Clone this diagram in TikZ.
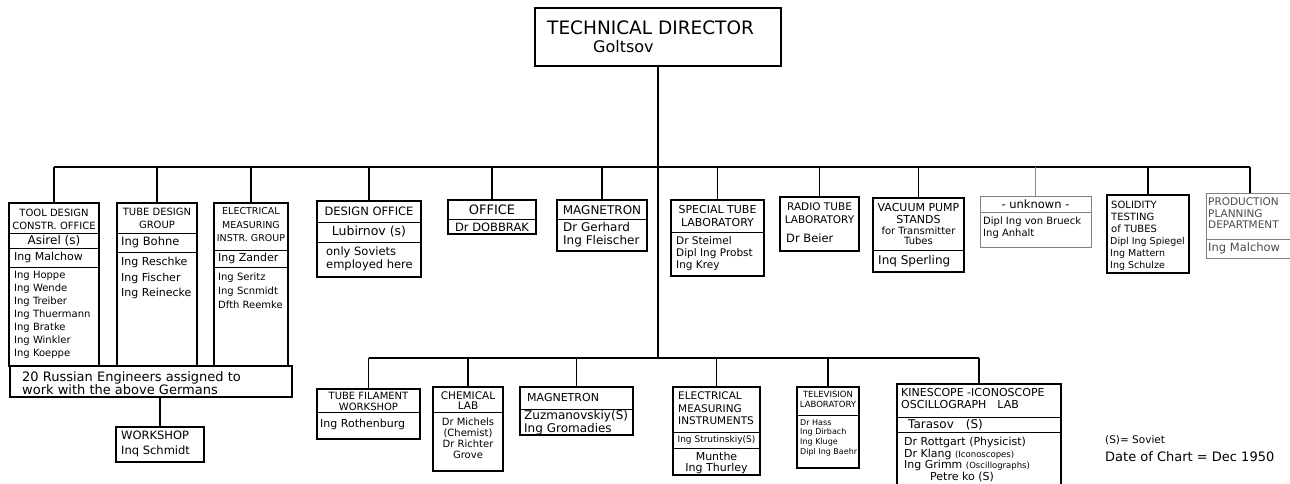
\documentclass[tikz,border=0pt]{standalone}
\usepackage{fontspec}
\setmainfont{DejaVu Sans}
\usetikzlibrary{calc}

\newcommand{\fsz}[2]{\fontsize{#1}{#2}\selectfont}
\newcommand{\splitat}[3][sep]{\draw[#1] (#2.west |- 0,#3) -- (#2.east |- 0,#3);}

\tikzset{
	box/.style={draw, line width=1.3pt, inner sep=0pt, outer sep=0pt},
	gbox/.style={box, draw=black!50, line width=0.7pt},
	sep/.style={line width=1pt},
	gsep/.style={draw=black!50, line width=0.7pt},
	link/.style={line width=1.6pt},
	glink/.style={draw=black!45, line width=0.8pt},
	hd/.style={inner sep=0pt, align=center, anchor=north},
	nm/.style={inner sep=0pt, align=left, anchor=north west},
	one/.style={inner sep=0pt},
}

\begin{document}
\begin{tikzpicture}[x=1pt, y=-1pt, auto]
	\useasboundingbox (0,0) rectangle (1290,483);
	
	% director
	\node[box, minimum width=246, minimum height=58] (dir) at (658,37) {};
	\node[nm, font=\fsz{18.5}{20}] (dirA) at (547,21) {TECHNICAL DIRECTOR};
	\node[nm, font=\fsz{16}{18}] (dirB) at (593,40) {Goltsov};
	\coordinate (tbus) at (658,167);
	\coordinate (bbus) at (658,358);
	
	% upper row
	\node[box, minimum width=90, minimum height=163] (tool) at (54,284.5) {};
	\splitat{tool}{233} \splitat{tool}{248} \splitat{tool}{267}
	\node[hd, font=\fsz{10}{13}] (toolH) at (54,209) {TOOL DESIGN\\CONSTR. OFFICE};
	\node[one, font=\fsz{12}{13}] (toolS) at (54,240.5) {Asirel (s)};
	\node[nm, anchor=west, font=\fsz{11}{13}] (toolM) at (14,257.5) {Ing Malchow};
	\node[nm, font=\fsz{10}{13}] (toolN) at (14,271) {Ing Hoppe\\Ing Wende\\Ing Treiber\\Ing Thuermann\\Ing Bratke\\Ing Winkler\\Ing Koeppe};
	
	\node[box, minimum width=80, minimum height=163] (tube) at (157,284.5) {};
	\splitat{tube}{233} \splitat{tube}{252}
	\node[hd, font=\fsz{10}{13}] (tubeH) at (157,208) {TUBE DESIGN\\GROUP};
	\node[nm, anchor=west, font=\fsz{11.5}{13}] (tubeB) at (121,242.5) {Ing Bohne};
	\node[nm, font=\fsz{11}{15.5}] (tubeN) at (121,257) {Ing Reschke\\Ing Fischer\\Ing Reinecke};
	
	\node[box, minimum width=74, minimum height=163] (elec) at (251,284.5) {};
	\splitat{elec}{250} \splitat{elec}{267}
	\node[hd, font=\fsz{9.5}{13.5}] (elecH) at (251,207.5) {ELECTRICAL\\MEASURING\\INSTR. GROUP};
	\node[nm, anchor=west, font=\fsz{11}{13}] (elecZ) at (218,258.5) {Ing Zander};
	\node[nm, font=\fsz{10}{14}] (elecN) at (218,273) {Ing Seritz\\Ing Scnmidt\\Dfth Reemke};
	
	\node[box, minimum width=282, minimum height=31] (russ) at (151,381.5) {};
	\node[nm, font=\fsz{13}{12}] (russT) at (22,371) {20 Russian Engineers assigned to\\work with the above Germans};
	
	\node[box, minimum width=88, minimum height=35] (works) at (160,444.5) {};
	\node[nm, font=\fsz{11.5}{15}] (worksT) at (121,430.5) {WORKSHOP\\Inq Schmidt};
	
	\node[box, minimum width=104, minimum height=76] (dsgn) at (369,239) {};
	\splitat{dsgn}{222} \splitat{dsgn}{242}
	\node[one, font=\fsz{11.5}{13}] (dsgnH) at (369,211.5) {DESIGN OFFICE};
	\node[one, font=\fsz{12.5}{13}] (dsgnL) at (369,232) {Lubirnov (s)};
	\node[nm, font=\fsz{11.5}{13}] (dsgnN) at (326,247) {only Soviets\\employed here};
	
	\node[box, minimum width=88, minimum height=34] (offc) at (492,217) {};
	\splitat{offc}{219}
	\node[one, font=\fsz{13}{13}] (offcH) at (492,210) {OFFICE};
	\node[one, font=\fsz{11.5}{13}] (offcD) at (492,227) {Dr DOBBRAK};
	
	\node[box, minimum width=90, minimum height=51] (magn) at (602,225.5) {};
	\splitat{magn}{219}
	\node[one, font=\fsz{12}{13}] (magnH) at (602,210) {MAGNETRON};
	\node[nm, font=\fsz{12}{13.5}] (magnN) at (563,222) {Dr Gerhard\\Ing Fleischer};
	
	\node[box, minimum width=93, minimum height=76] (spec) at (717.5,238) {};
	\splitat{spec}{232}
	\node[hd, font=\fsz{11}{13}] (specH) at (717.5,205) {SPECIAL TUBE\\LABORATORY};
	\node[nm, font=\fsz{10.5}{12}] (specN) at (676,236) {Dr Steimel\\Dipl Ing Probst\\Ing Krey};
	
	\node[box, minimum width=79, minimum height=54] (radio) at (819.5,224) {};
	\node[hd, font=\fsz{10.5}{13}] (radioH) at (819.5,202) {RADIO TUBE\\LABORATORY};
	\node[nm, anchor=west, font=\fsz{11.5}{13}] (radioN) at (786,238) {Dr Beier};
	
	\node[box, minimum width=91, minimum height=74] (vac) at (918.5,235) {};
	\splitat{vac}{250}
	\node[hd, font=\fsz{11}{12}] (vacH) at (918.5,203) {VACUUM PUMP\\STANDS};
	\node[hd, font=\fsz{10}{10}] (vacF) at (918.5,227) {for Transmitter\\Tubes};
	\node[nm, anchor=west, font=\fsz{12}{13}] (vacS) at (878,261) {Inq Sperling};
	
	\node[gbox, minimum width=111, minimum height=51] (unkn) at (1035.5,221.5) {};
	\splitat[gsep]{unkn}{212}
	\node[one, font=\fsz{11.5}{13}] (unknH) at (1035.5,204) {- unknown -};
	\node[nm, font=\fsz{10}{12}] (unknN) at (983,217) {Dipl Ing von Brueck\\Ing Anhalt};
	
	\node[box, minimum width=82, minimum height=78] (solid) at (1148,234) {};
	\node[nm, font=\fsz{10}{12}] (solidH) at (1111,201) {SOLIDITY\\TESTING\\of TUBES};
	\node[nm, font=\fsz{9.5}{12}] (solidN) at (1110,237) {Dipl Ing Spiegel\\Ing Mattern\\Ing Schulze};
	
	\node[gbox, minimum width=88, minimum height=65] (prod) at (1250,225.5) {};
	\splitat[gsep]{prod}{239}
	\node[nm, font=\fsz{10.5}{11.5}, text=black!70] (prodH) at (1208,198) {PRODUCTION\\PLANNING\\DEPARTMENT};
	\node[nm, anchor=west, font=\fsz{11.5}{13}, text=black!70] (prodN) at (1208,248) {Ing Malchow};
	
	% lower row
	\node[box, minimum width=103, minimum height=50] (fila) at (368.5,414) {};
	\splitat{fila}{412}
	\node[hd, font=\fsz{10}{10.5}] (filaH) at (368.5,392.5) {TUBE FILAMENT\\WORKSHOP};
	\node[nm, anchor=west, font=\fsz{11}{13}] (filaN) at (320,424) {Ing Rothenburg};
	
	\node[box, minimum width=70, minimum height=84] (chem) at (468,429) {};
	\splitat{chem}{412}
	\node[hd, font=\fsz{10.5}{10.5}] (chemH) at (468,391) {CHEMICAL\\LAB};
	\node[hd, font=\fsz{10}{10.8}] (chemN) at (468,418) {Dr Michels\\(Chemist)\\Dr Richter\\Grove};
	
	\node[box, minimum width=113, minimum height=48] (mag2) at (576.5,411) {};
	\splitat{mag2}{409}
	\node[nm, anchor=west, font=\fsz{11}{13}] (mag2H) at (527,397) {MAGNETRON};
	\node[nm, font=\fsz{12}{10.5}] (mag2N) at (524,410.5) {Zuzmanovskiy(S)\\Ing Gromadies};
	
	\node[box, minimum width=87, minimum height=88] (meas) at (716.5,431) {};
	\splitat{meas}{432} \splitat{meas}{448}
	\node[nm, font=\fsz{10.5}{12.5}] (measH) at (678,391.5) {ELECTRICAL\\MEASURING\\INSTRUMENTS};
	\node[one, font=\fsz{9}{11}] (measS) at (716.5,440) {Ing Strutinskiy(S)};
	\node[hd, font=\fsz{11}{11}] (measN) at (716.5,452) {Munthe\\Ing Thurley};
	
	\node[box, minimum width=62, minimum height=81] (tele) at (828,427.5) {};
	\splitat{tele}{415}
	\node[hd, font=\fsz{8.5}{10}] (teleH) at (828,391) {TELEVISION\\LABORATORY};
	\node[nm, font=\fsz{8}{9.7}] (teleN) at (800,419) {Dr Hass\\Ing Dirbach\\Ing Kluge\\Dipl Ing Baehr};
	
	\node[box, minimum width=164, minimum height=110] (kine) at (979,439) {};
	\splitat{kine}{417} \splitat{kine}{432}
	\node[nm, font=\fsz{11}{12}] (kineH) at (901,388.5) {KINESCOPE -ICONOSCOPE\\OSCILLOGRAPH\quad LAB};
	\node[nm, anchor=west, font=\fsz{12}{13}] (kineT) at (908,425) {Tarasov\quad(S)};
	\node[nm, font=\fsz{11}{10.5}] (kineN) at (904,437) {Dr Rottgart (Physicist)\\Dr Klang {\fsz{8.5}{10.5}(Iconoscopes)}\\Ing Grimm {\fsz{8.5}{10.5}(Oscillographs)}\\\hspace*{26pt}Petre ko (S)};
	
	\node[nm, anchor=west, font=\fsz{10.5}{12}] (legA) at (1105,440) {(S)= Soviet};
	\node[nm, anchor=west, font=\fsz{13}{14}] (legB) at (1105,457) {Date of Chart = Dec 1950};
	
	% connectors
	\draw[link] (dir.south) -- (bbus);
	\draw[link] (tool.north |- tbus) -- (prod.north |- tbus);
	\draw[link] (fila.north |- bbus) -- (kine.north |- bbus);
	\draw[link] (tool.north) -- (tool.north |- tbus);
	\draw[link] (tube.north) -- (tube.north |- tbus);
	\draw[link] (elec.north) -- (elec.north |- tbus);
	\draw[link] (dsgn.north) -- (dsgn.north |- tbus);
	\draw[link] (offc.north) -- (offc.north |- tbus);
	\draw[link] (magn.north) -- (magn.north |- tbus);
	\draw[link] (spec.north) -- (spec.north |- tbus);
	\draw[link] (radio.north) -- (radio.north |- tbus);
	\draw[link] (vac.north) -- (vac.north |- tbus);
	\draw[glink] (unkn.north) -- (unkn.north |- tbus);
	\draw[link] (solid.north) -- (solid.north |- tbus);
	\draw[link] (prod.north) -- (prod.north |- tbus);
	\draw[link] (works.north) -- (works.north |- russ.south);
	\draw[link] (fila.north) -- (fila.north |- bbus);
	\draw[link] (chem.north) -- (chem.north |- bbus);
	\draw[link] (mag2.north) -- (mag2.north |- bbus);
	\draw[link] (meas.north) -- (meas.north |- bbus);
	\draw[link] (tele.north) -- (tele.north |- bbus);
	\draw[link] (kine.north) -- (kine.north |- bbus);
	
\end{tikzpicture}
\end{document}
